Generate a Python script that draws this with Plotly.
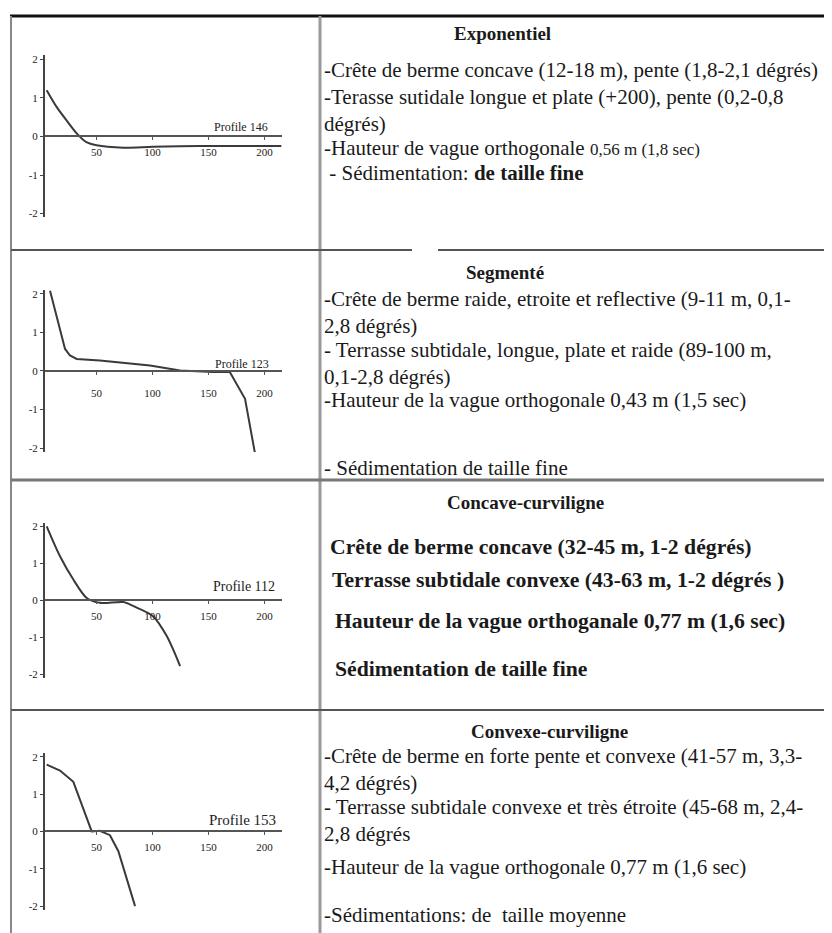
import plotly.graph_objects as go

W, H = 832, 933
OFF = 8  # page body margin of the browser

# ---------------- data ----------------
profile_names = ["Profile 146", "Profile 123", "Profile 112", "Profile 153"]

p146_x = [5.5, 14.5, 23.4, 32.3, 41, 50, 74, 100, 142, 215]
p146_y = [1.2, 0.76, 0.41, 0.08, -0.15, -0.23, -0.29, -0.27, -0.25, -0.25]

p123_x = [8.5, 21.9, 26.3, 32.3, 53, 97.8, 124.6, 154, 169, 182.6, 191.5]
p123_y = [2.08, 0.57, 0.4, 0.31, 0.27, 0.14, 0.01, -0.03, -0.03, -0.72, -2.14]

p112_x = [5.5, 17.4, 29.3, 41, 53, 74, 83, 100.4, 112.7, 124.6]
p112_y = [2.0, 1.19, 0.56, 0.07, -0.07, -0.05, -0.16, -0.43, -0.97, -1.78]

p153_x = [5.5, 17.4, 29.3, 36.8, 45.7, 53, 62, 69.5, 77, 84.4]
p153_y = [1.79, 1.63, 1.33, 0.7, 0.0, 0.02, -0.1, -0.53, -1.25, -2.0]

x_ticks = [50, 100, 150, 200]
y_ticks = [-2, -1, 0, 1, 2]
y_tick_labels = ["-2", "-1", "0", "1", "2"]

headers = ["Exponentiel", "Segmenté", "Concave-curviligne", "Convexe-curviligne"]

row1_lines = [
    "-Crête de berme concave (12-18 m), pente (1,8-2,1 dégrés)",
    "-Terasse sutidale longue et plate (+200), pente (0,2-0,8<br>dégrés)",
    "-Hauteur de vague orthogonale <span style='font-size:17px'>0,56 m (1,8 sec)</span>",
    " - Sédimentation: <b>de taille fine</b>",
]
row2_lines = [
    "-Crête de berme raide, etroite et reflective (9-11 m, 0,1-<br>2,8 dégrés)",
    "- Terrasse subtidale, longue, plate et raide (89-100 m,<br>0,1-2,8 dégrés)",
    "-Hauteur de la vague orthogonale 0,43 m (1,5 sec)",
    "- Sédimentation de taille fine",
]
row3_lines = [
    "Crête de berme concave (32-45 m, 1-2 dégrés)",
    "Terrasse subtidale convexe (43-63 m, 1-2 dégrés )",
    "Hauteur de la vague orthoganale 0,77 m (1,6 sec)",
    "Sédimentation de taille fine",
]
row4_lines = [
    "-Crête de berme en forte pente et convexe (41-57 m, 3,3-<br>4,2 dégrés)",
    "- Terrasse subtidale convexe et très étroite (45-68 m, 2,4-<br>2,8 dégrés",
    "-Hauteur de la vague orthogonale 0,77 m (1,6 sec)",
    "-Sédimentations: de  taille moyenne",
]

# ---------------- layout helpers ----------------
def px(x):
    return (x - OFF) / W

def py(y):
    return 1 - (y - OFF) / H

SERIF = "Liberation Serif, Times New Roman, serif"
LINE_COL = "#3a3a3a"

series = [(p146_x, p146_y), (p123_x, p123_y), (p112_x, p112_y), (p153_x, p153_y)]
shapes_line = ["spline", "linear", "spline", "linear"]
# (zero-line pixel y, pixels per unit)
chart_geo = [(135, 38.75), (370.5, 38.75), (600.8, 37.1), (833, 37.5)]
x_range = [4, 215.6]
x_dom = [px(45), px(282)]
y_half = 2.1
label_pos = [(205, 0, 12, 0), (206, 0, 12, -2), (211, 0, 14, 4), (212, 0, 15, 1)]
tick_standoff = [2, 9, 3, 2]

fig = go.Figure()
layout = dict(
    width=W, height=H,
    margin=dict(l=0, r=0, t=0, b=0),
    paper_bgcolor="white", plot_bgcolor="rgba(0,0,0,0)",
    showlegend=False,
)
annotations = []

for i, ((xs, ys), (y0, sc)) in enumerate(zip(series, chart_geo)):
    k = "" if i == 0 else str(i + 1)
    fig.add_trace(go.Scatter(
        x=xs, y=ys, mode="lines",
        line=dict(color=LINE_COL, width=2, shape=shapes_line[i], smoothing=0.8),
        xaxis="x" + k, yaxis="y" + k, hoverinfo="skip",
    ))
    top = y0 - y_half * sc
    bot = y0 + y_half * sc
    layout["xaxis" + k] = dict(
        domain=x_dom, range=x_range, anchor="free", position=py(y0),
        showline=True, linecolor="#555", linewidth=2,
        ticks="outside", ticklen=3, tickcolor="#555",
        tickvals=x_ticks, ticklabelstandoff=tick_standoff[i],
        tickfont=dict(family=SERIF, size=11, color="#222"),
        showgrid=False, zeroline=False, fixedrange=True,
    )
    layout["yaxis" + k] = dict(
        domain=[py(bot), py(top)], range=[-y_half, y_half], anchor="x" + k,
        showline=True, linecolor="#444", linewidth=2,
        ticks="outside", ticklen=3, tickcolor="#444",
        tickvals=y_ticks, ticktext=y_tick_labels,
        tickfont=dict(family=SERIF, size=11, color="#222"),
        showgrid=False, zeroline=False, fixedrange=True,
    )
    lx, ly, lsize, lshift = label_pos[i]
    annotations.append(dict(
        x=lx, y=ly, xref="x" + k, yref="y" + k, text=profile_names[i],
        xanchor="right", yanchor="bottom", yshift=lshift, showarrow=False,
        font=dict(family=SERIF, size=lsize, color="#222"),
    ))

# ---------------- right-hand text ----------------
BODY = 21
def add_text(x, y, text, size=BODY, anchor="left", bold=False):
    annotations.append(dict(
        x=px(x), y=py(y), xref="paper", yref="paper",
        text=("<b>%s</b>" % text) if bold else text,
        xanchor=anchor, align="left" if anchor == "left" else "center",
        yanchor="middle", showarrow=False,
        font=dict(family=SERIF, size=size, color="#1a1a1a"),
    ))

header_pos = [(502, 32), (505, 272), (525, 503), (549, 733)]
for h, (hx, hy) in zip(headers, header_pos):
    add_text(hx, hy, h, size=19, anchor="center", bold=True)

for t, y in zip(row1_lines, [109, 109, 147, 172][:0] or [68, 109, 147, 172]):
    add_text(322, y, t)
for t, y in zip(row2_lines, [311.5, 363, 400, 468]):
    add_text(322, y, t)
for t, (x, y) in zip(row3_lines, [(328, 547), (330, 580), (333, 622), (333, 670)]):
    add_text(x, y, t, size=21.7, bold=True)
for t, y in zip(row4_lines, [770.5, 822, 869, 917]):
    add_text(322, y, t)

# ---------------- table rules ----------------
def rule(x0, y0, x1, y1, color, width):
    return dict(type="line", xref="paper", yref="paper",
                x0=px(x0), y0=py(y0), x1=px(x1), y1=py(y1),
                line=dict(color=color, width=width))

shapes = [
    rule(10, 14, 840, 14, "#111", 3),
    rule(11, 14, 11, 941, "#888", 2),
    rule(320, 14, 320, 941, "#999", 3),
    rule(11, 249, 412, 249, "#555", 2),
    rule(438, 249, 840, 249, "#555", 2),
    rule(11, 480, 840, 480, "#777", 3),
    rule(11, 711, 840, 711, "#555", 2),
]

layout["annotations"] = annotations
layout["shapes"] = shapes
fig.update_layout(**layout)
fig.write_html("out.html")
